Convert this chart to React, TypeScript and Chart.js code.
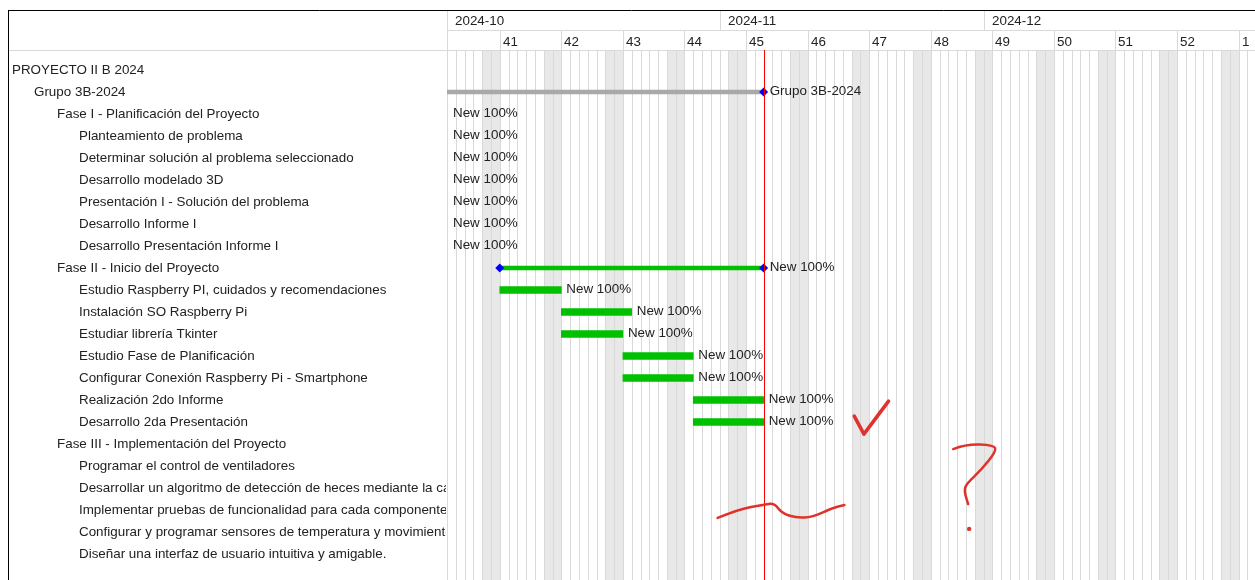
import React, { useEffect, useRef } from "react";
import { Chart, registerables } from "chart.js";
Chart.register(...registerables);

// Rows of the Gantt chart
const taskNames = [
  "PROYECTO II B 2024",
  "Grupo 3B-2024",
  "Fase I - Planificación del Proyecto",
  "Planteamiento de problema",
  "Determinar solución al problema seleccionado",
  "Desarrollo modelado 3D",
  "Presentación I - Solución del problema",
  "Desarrollo Informe I",
  "Desarrollo Presentación Informe I",
  "Fase II - Inicio del Proyecto",
  "Estudio Raspberry PI, cuidados y recomendaciones",
  "Instalación SO Raspberry Pi",
  "Estudiar librería Tkinter",
  "Estudio Fase de Planificación",
  "Configurar Conexión Raspberry Pi - Smartphone",
  "Realización 2do Informe",
  "Desarrollo 2da Presentación",
  "Fase III - Implementación del Proyecto",
  "Programar el control de ventiladores",
  "Desarrollar un algoritmo de detección de heces mediante la cámara",
  "Implementar pruebas de funcionalidad para cada componente",
  "Configurar y programar sensores de temperatura y movimiento",
  "Diseñar una interfaz de usuario intuitiva y amigable.",
];
const taskLevels = [0, 1, 2, 3, 3, 3, 3, 3, 3, 2, 3, 3, 3, 3, 3, 3, 3, 2, 3, 3, 3, 3, 3];
// kind: "" none, "group", "phase", "task"
const taskKinds = ["", "group", "phase", "task", "task", "task", "task", "task", "task", "phase", "task", "task", "task", "task", "task", "task", "task", "phase", "", "", "", "", ""];
// days counted from 2024-10-01 (day 0)
const taskStarts: (number | null)[] = [null, -42, -42, -42, -36, -29, -22, -15, -12, 6, 6, 13, 13, 20, 20, 28, 28, null, null, null, null, null, null];
const taskEnds: (number | null)[] = [null, 36, -5, -36, -29, -22, -15, -8, -5, 36, 13, 21, 20, 28, 28, 36, 36, null, null, null, null, null, null];
const taskTexts = ["", "Grupo 3B-2024", "New 100%", "New 100%", "New 100%", "New 100%", "New 100%", "New 100%", "New 100%", "New 100%", "New 100%", "New 100%", "New 100%", "New 100%", "New 100%", "New 100%", "New 100%", "", "", "", "", "", ""];

// Time axis
const viewDays = 91.35;
const todayDay = 36; // 2024-11-06
const firstWeekday = 1; // 2024-10-01 is a Tuesday (Mon = 0)
const monthLabels = ["2024-10", "2024-11", "2024-12"];
const monthStarts = [0, 31, 61];
const weekLabels = ["41", "42", "43", "44", "45", "46", "47", "48", "49", "50", "51", "52", "1"];
const weekStarts = [6, 13, 20, 27, 34, 41, 48, 55, 62, 69, 76, 83, 90];

// Hand-drawn marks on the picture, in (day, row) units
const annotationStrokes: { w: number; pts: [number, number][] }[] = [
  { w: 3.5, pts: [[46.3, 15.73], [47.4, 16.55], [50.2, 15.05]] },
  { w: 2.5, pts: [[30.76, 20.36], [33.26, 19.95], [35.87, 19.77], [37.23, 19.68], [38.02, 20.14], [39.73, 20.36], [41.54, 20.32], [43.81, 19.91], [45.18, 19.77]] },
  { w: 2.5, pts: [[57.55, 17.23], [59.02, 17.0], [62.2, 17.05], [62.43, 17.32], [60.84, 18.14], [59.02, 18.82], [58.8, 19.14], [59.25, 19.73]] },
];
const annotationDots: [number, number][] = [[59.36, 20.86]];

const FONT = '"Liberation Sans", Arial, sans-serif';
const FS = 13.4;
const TEXT = "#222";
const LINE = "#d9d9d9";
const LEFT = 447;
const FRAME_X = 8;
const FRAME_Y = 10;
const HEAD_MID = 30;
const HEAD_BOT = 50;

const barData = (kind: string) =>
  taskNames.map((_, i) =>
    taskKinds[i] === kind && taskStarts[i] !== null ? [taskStarts[i], taskEnds[i]] : null
  );

export default function App() {
  const ref = useRef<HTMLCanvasElement>(null);
  useEffect(() => {
    const canvas = ref.current!;
    const diamonds: { x: number; y: string }[] = [];
    taskNames.forEach((name, i) => {
      if ((taskKinds[i] === "group" || taskKinds[i] === "phase") && taskStarts[i] !== null) {
        diamonds.push({ x: taskStarts[i] as number, y: name });
        diamonds.push({ x: taskEnds[i] as number, y: name });
      }
    });

    const background = {
      id: "ganttBackground",
      beforeDatasetsDraw(chart: any) {
        const { ctx, width, height } = chart;
        const xs = chart.scales.x;
        const px = (d: number) => xs.getPixelForValue(d);
        ctx.save();
        ctx.fillStyle = "#fff";
        ctx.fillRect(0, 0, width, height);
        // weekend shading
        ctx.fillStyle = "#e8e8e8";
        for (let d = 0; d < Math.ceil(viewDays); d++) {
          const wd = (firstWeekday + d) % 7;
          if (wd === 5 || wd === 6) {
            const a = Math.round(px(d));
            const b = Math.round(px(d + 1));
            ctx.fillRect(a, HEAD_BOT, b - a, height - HEAD_BOT);
          }
        }
        // day lines
        ctx.strokeStyle = LINE;
        ctx.lineWidth = 1;
        ctx.beginPath();
        for (let d = 0; d <= Math.ceil(viewDays); d++) {
          const x = Math.round(px(d)) + 0.5;
          ctx.moveTo(x, HEAD_BOT);
          ctx.lineTo(x, height);
        }
        ctx.stroke();

        // header
        ctx.strokeStyle = LINE;
        ctx.beginPath();
        ctx.moveTo(LEFT, HEAD_MID + 0.5);
        ctx.lineTo(width, HEAD_MID + 0.5);
        ctx.moveTo(FRAME_X, HEAD_BOT + 0.5);
        ctx.lineTo(width, HEAD_BOT + 0.5);
        ctx.moveTo(LEFT + 0.5, FRAME_Y);
        ctx.lineTo(LEFT + 0.5, height);
        monthStarts.forEach((m) => {
          const x = Math.round(px(m)) + 0.5;
          ctx.moveTo(x, FRAME_Y);
          ctx.lineTo(x, HEAD_MID);
        });
        weekStarts.forEach((w) => {
          const x = Math.round(px(w)) + 0.5;
          ctx.moveTo(x, HEAD_MID);
          ctx.lineTo(x, HEAD_BOT);
        });
        ctx.stroke();

        ctx.fillStyle = TEXT;
        ctx.font = `${FS}px ${FONT}`;
        ctx.textBaseline = "middle";
        ctx.textAlign = "left";
        monthLabels.forEach((t, i) => ctx.fillText(t, Math.round(px(monthStarts[i])) + 8, 21));
        weekLabels.forEach((t, i) => ctx.fillText(t, Math.round(px(weekStarts[i])) + 3, 42));

        // frame
        ctx.strokeStyle = "#000";
        ctx.beginPath();
        ctx.moveTo(FRAME_X, FRAME_Y + 0.5);
        ctx.lineTo(width, FRAME_Y + 0.5);
        ctx.moveTo(FRAME_X + 0.5, FRAME_Y);
        ctx.lineTo(FRAME_X + 0.5, height);
        ctx.stroke();

        // left labels
        const ys = chart.scales.y;
        ctx.save();
        ctx.beginPath();
        ctx.rect(FRAME_X + 1, HEAD_BOT + 1, LEFT - FRAME_X - 2, height - HEAD_BOT);
        ctx.clip();
        ctx.fillStyle = TEXT;
        taskNames.forEach((t, i) => {
          ctx.fillText(t, 12 + Math.round(taskLevels[i] * 22.33), ys.getPixelForValue(i));
        });
        ctx.restore();
        ctx.restore();
      },
      afterDatasetsDraw(chart: any) {
        const { ctx, height, chartArea } = chart;
        const xs = chart.scales.x;
        const ys = chart.scales.y;
        ctx.save();
        // today line
        const tx = Math.round(xs.getPixelForValue(todayDay)) + 0.5;
        ctx.strokeStyle = "#ff0000";
        ctx.lineWidth = 1;
        ctx.beginPath();
        ctx.moveTo(tx, HEAD_BOT);
        ctx.lineTo(tx, height);
        ctx.stroke();
        // bar texts
        ctx.font = `${FS}px ${FONT}`;
        ctx.fillStyle = TEXT;
        ctx.textBaseline = "middle";
        taskNames.forEach((_, i) => {
          if (!taskTexts[i] || taskEnds[i] === null) return;
          const ex = xs.getPixelForValue(taskEnds[i]);
          const summary = taskKinds[i] !== "task";
          let x: number;
          if (ex < chartArea.left) x = chartArea.left + 6;
          else x = ex + (summary ? 6 : 5);
          ctx.fillText(taskTexts[i], x, ys.getPixelForValue(i) - 1);
        });
        ctx.restore();
      },
      afterDraw(chart: any) {
        const { ctx } = chart;
        const xs = chart.scales.x;
        const ys = chart.scales.y;
        const P = (p: [number, number]) => [xs.getPixelForValue(p[0]), ys.getPixelForValue(p[1])];
        ctx.save();
        ctx.strokeStyle = "#e0322a";
        ctx.fillStyle = "#e0322a";
        ctx.lineCap = "round";
        ctx.lineJoin = "round";
        annotationStrokes.forEach((s) => {
          ctx.lineWidth = s.w;
          const pts = s.pts.map(P);
          ctx.beginPath();
          ctx.moveTo(pts[0][0], pts[0][1]);
          if (pts.length === 3 && s.w > 3) {
            ctx.lineTo(pts[1][0], pts[1][1]);
            ctx.lineTo(pts[2][0], pts[2][1]);
          } else {
            for (let k = 1; k < pts.length - 1; k++) {
              const mx = (pts[k][0] + pts[k + 1][0]) / 2;
              const my = (pts[k][1] + pts[k + 1][1]) / 2;
              ctx.quadraticCurveTo(pts[k][0], pts[k][1], mx, my);
            }
            const l = pts[pts.length - 1];
            ctx.lineTo(l[0], l[1]);
          }
          ctx.stroke();
        });
        annotationDots.forEach((d) => {
          const [x, y] = P(d);
          ctx.beginPath();
          ctx.arc(x, y, 2.2, 0, Math.PI * 2);
          ctx.fill();
        });
        ctx.restore();
      },
    };

    const chart = new Chart(canvas, {
      type: "bar",
      data: {
        labels: taskNames,
        datasets: [
          {
            type: "bar",
            label: "group",
            data: barData("group") as any,
            backgroundColor: "#a9a9a9",
            barThickness: 4,
            grouped: false,
            order: 2,
          },
          {
            type: "bar",
            label: "phase",
            data: barData("phase") as any,
            backgroundColor: "#00c000",
            barThickness: 4,
            grouped: false,
            order: 2,
          },
          {
            type: "bar",
            label: "task",
            data: barData("task") as any,
            backgroundColor: "#00c000",
            barThickness: 7,
            grouped: false,
            order: 2,
          },
          {
            type: "scatter",
            label: "milestones",
            data: diamonds as any,
            pointStyle: "rectRot",
            pointRadius: 4.5,
            pointBackgroundColor: "#0000ff",
            pointBorderColor: "#0000ff",
            pointBorderWidth: 0,
            showLine: false,
            clip: 0,
            order: 0,
          } as any,
        ],
      },
      options: {
        indexAxis: "y",
        animation: false,
        responsive: true,
        maintainAspectRatio: false,
        events: [],
        layout: { padding: { left: LEFT, right: 0, top: 59, bottom: 15 } },
        plugins: { legend: { display: false }, tooltip: { enabled: false } },
        scales: {
          x: { type: "linear", min: 0, max: viewDays, display: false },
          y: { type: "category", display: false, offset: true },
        },
      },
      plugins: [background],
    });
    return () => chart.destroy();
  }, []);

  return (
    <div style={{ position: "fixed", left: 0, top: 0, width: 1255, height: 580, background: "#fff" }}>
      <canvas ref={ref} />
    </div>
  );
}
